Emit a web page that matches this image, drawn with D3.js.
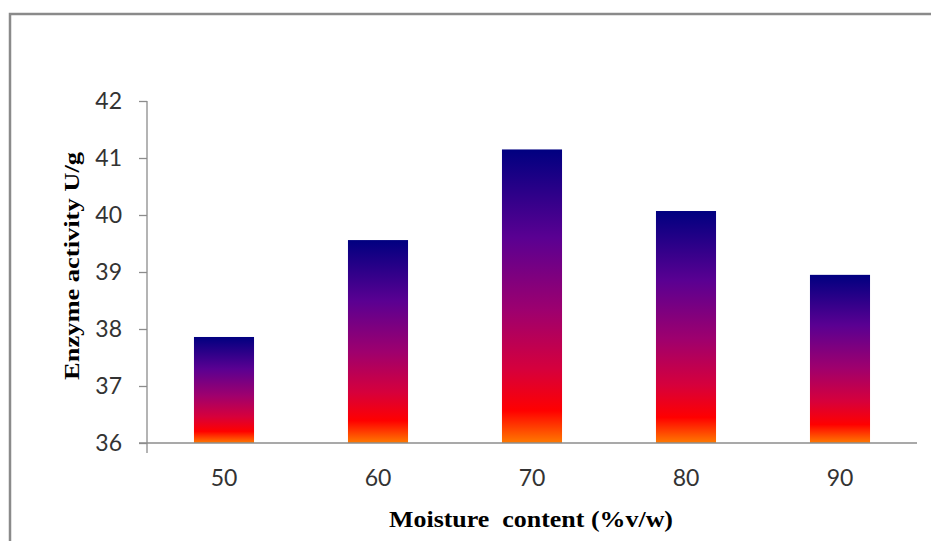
<!DOCTYPE html>
<html>
<head>
<meta charset="utf-8">
<script src="https://cdn.jsdelivr.net/npm/d3@7/dist/d3.min.js"></script>
<style>
  html, body { margin: 0; padding: 0; background: #fff; }
  svg { display: block; }
</style>
</head>
<body>
<svg id="chart" width="931" height="541"></svg>
<script>
// Moisture content levels and measured enzyme activity
const categories = ["50", "60", "70", "80", "90"];
const activity = [37.86, 39.56, 41.15, 40.07, 38.95];
const yTicks = [36, 37, 38, 39, 40, 41, 42];

const svg = d3.select("#chart");
const W = 931, H = 541;
const plot = { left: 147, right: 917, top: 101, bottom: 443 };

// outer frame of the chart area
svg.append("rect")
  .attr("x", 10).attr("y", 14)
  .attr("width", W + 20).attr("height", H + 20)
  .attr("fill", "#fff")
  .attr("stroke", "#8a8a8a").attr("stroke-width", 2.5);

// vertical gradient: navy at the top through purple and red to orange at the base
const defs = svg.append("defs");
const grad = defs.append("linearGradient")
  .attr("id", "barFill")
  .attr("x1", 0).attr("y1", 0).attr("x2", 0).attr("y2", 1);
[
  [0, "#000080"],
  [0.3, "#5a0092"],
  [0.55, "#9e006e"],
  [0.75, "#d6003c"],
  [0.89, "#ff0000"],
  [1, "#ff7a00"]
].forEach(([o, c]) => grad.append("stop").attr("offset", o).attr("stop-color", c));

const x = d3.scaleBand()
  .domain(categories)
  .range([plot.left, plot.right])
  .paddingInner(0.61)
  .paddingOuter(0.305);

const y = d3.scaleLinear()
  .domain([36, 42])
  .range([plot.bottom, plot.top]);

// bars
svg.append("g")
  .selectAll("rect")
  .data(activity)
  .join("rect")
  .attr("x", (d, i) => x(categories[i]))
  .attr("y", d => y(d))
  .attr("width", x.bandwidth())
  .attr("height", d => y(36) - y(d))
  .attr("fill", "url(#barFill)");

const axisColor = "#8c8c8c";
const labelFont = "Lato, 'Open Sans', sans-serif";

// y axis
const yAxis = svg.append("g")
  .attr("transform", `translate(${plot.left},0)`)
  .call(d3.axisLeft(y).tickValues(yTicks).tickSize(8).tickPadding(17).tickFormat(d3.format("d")));
yAxis.select(".domain").remove();
yAxis.selectAll(".tick line").attr("stroke", axisColor).attr("stroke-width", 1.3);
yAxis.selectAll(".tick text")
  .attr("fill", "#333")
  .style("font-family", labelFont)
  .style("font-size", "23px");
svg.append("line")
  .attr("x1", plot.left).attr("x2", plot.left)
  .attr("y1", plot.top).attr("y2", plot.bottom + 10)
  .attr("stroke", axisColor).attr("stroke-width", 1.3);

// x axis
const xAxis = svg.append("g")
  .attr("transform", `translate(0,${plot.bottom})`)
  .call(d3.axisBottom(x).tickSize(0).tickPadding(27));
xAxis.select(".domain").remove();
xAxis.selectAll(".tick text")
  .attr("fill", "#333")
  .style("font-family", labelFont)
  .style("font-size", "23px");
svg.append("line")
  .attr("x1", plot.left - 8).attr("x2", plot.right)
  .attr("y1", plot.bottom).attr("y2", plot.bottom)
  .attr("stroke", axisColor).attr("stroke-width", 1.3);

// axis titles
const titleFont = "'Liberation Serif', 'Times New Roman', serif";
svg.append("text")
  .attr("x", 531)
  .attr("y", 527)
  .attr("text-anchor", "middle")
  .attr("textLength", 284)
  .attr("lengthAdjust", "spacingAndGlyphs")
  .style("font-family", titleFont)
  .style("font-weight", "bold")
  .style("font-size", "23px")
  .style("white-space", "pre")
  .attr("fill", "#000")
  .text("Moisture  content (%v/w)");

svg.append("text")
  .attr("transform", "translate(79,266) rotate(-90)")
  .attr("text-anchor", "middle")
  .attr("textLength", 228)
  .attr("lengthAdjust", "spacingAndGlyphs")
  .style("font-family", titleFont)
  .style("font-weight", "bold")
  .style("font-size", "22px")
  .attr("fill", "#000")
  .text("Enzyme activity U/g");
</script>
</body>
</html>
